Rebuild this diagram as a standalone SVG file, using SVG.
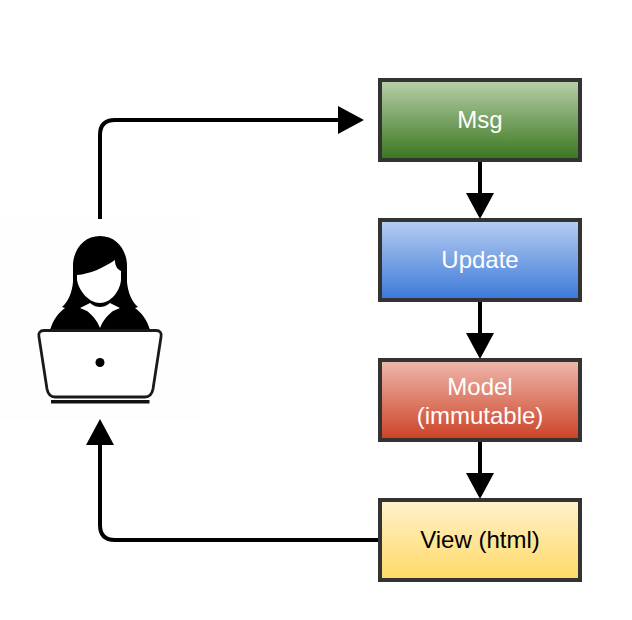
<svg xmlns="http://www.w3.org/2000/svg" width="632" height="620" viewBox="0 0 632 620">
<style>
.box{stroke:#333;stroke-width:4}
.c{fill:none;stroke:#000;stroke-width:4}
.h{fill:#000;stroke:none}
text{font-family:"Liberation Sans",Arial,sans-serif;font-size:24px;text-anchor:middle}
.w{fill:#fff}
</style>
<defs>
<linearGradient id="g1" x1="0" y1="0" x2="0" y2="1"><stop offset="0" stop-color="#b9d0ab"/><stop offset="1" stop-color="#38761d"/></linearGradient>
<linearGradient id="g2" x1="0" y1="0" x2="0" y2="1"><stop offset="0" stop-color="#b7cef2"/><stop offset="1" stop-color="#3c78d8"/></linearGradient>
<linearGradient id="g3" x1="0" y1="0" x2="0" y2="1"><stop offset="0" stop-color="#efb9ae"/><stop offset="1" stop-color="#cc4125"/></linearGradient>
<linearGradient id="g4" x1="0" y1="0" x2="0" y2="1"><stop offset="0" stop-color="#fff2cc"/><stop offset="1" stop-color="#ffd966"/></linearGradient>
</defs>
<rect width="632" height="620" fill="#fff"/>
<g id="user">
<rect x="0" y="222" width="200" height="198" fill="#fefefe"/>
<path fill="#000" d="M100 236C84 236 74 249 73 264L73 282C72 293 68 302 62 307L65 308C58 313 53 320 50 330L150 330C147 320 142 313 135 308L138 307C132 302 128 293 127 282L127 264C126 249 116 236 100 236Z"/>
<path fill="#fff" d="M77 275C90 274 103 268 115 260C115 266 117 269 121 271L121 280C120 291 111 303 100 303C89 303 79 291 77 280Z"/>
<path fill="#fff" d="M80 308L90 303C94 306 97 307 100 307C103 307 106 306 110 303L120 308L113 311C108 315 103 320 100 328C97 320 92 315 87 311Z"/>
<path fill="#fff" stroke="#1a1a1a" stroke-width="2.800" d="M44 330.500L156 330.500C160 330.500 162 333 161 337L153 389C152 394 149 397 145 397L55 397C51 397 48 394 47 389L39 337C38 333 40 330.500 44 330.500Z"/>
<circle cx="100" cy="362.500" r="4.500" fill="#000"/>
<rect x="51" y="400" width="98.500" height="3.500" fill="#111"/>
</g>
<g id="connectors">
<path class="c" d="M100 219V135Q100 120 115 120H340"/>
<path class="h" d="M338 106L364 120L338 134Z"/>
<path class="c" d="M480 160V195"/>
<path class="h" d="M466 193H494L480 219Z"/>
<path class="c" d="M480 300V335"/>
<path class="h" d="M466 333H494L480 359Z"/>
<path class="c" d="M480 440V475"/>
<path class="h" d="M466 473H494L480 499Z"/>
<path class="c" d="M380 540H115Q100 540 100 525V443"/>
<path class="h" d="M86 445L100 419L114 445Z"/>
</g>
<g id="msg"><rect class="box" x="380" y="80" width="200" height="80" fill="url(#g1)"/><text class="w" x="480" y="128">Msg</text></g>
<g id="update"><rect class="box" x="380" y="220" width="200" height="80" fill="url(#g2)"/><text class="w" x="480" y="268">Update</text></g>
<g id="model"><rect class="box" x="380" y="360" width="200" height="80" fill="url(#g3)"/><text class="w" x="480" y="395">Model</text><text class="w" x="480" y="424">(immutable)</text></g>
<g id="view"><rect class="box" x="380" y="500" width="200" height="80" fill="url(#g4)"/><text x="480" y="548">View (html)</text></g>
</svg>
